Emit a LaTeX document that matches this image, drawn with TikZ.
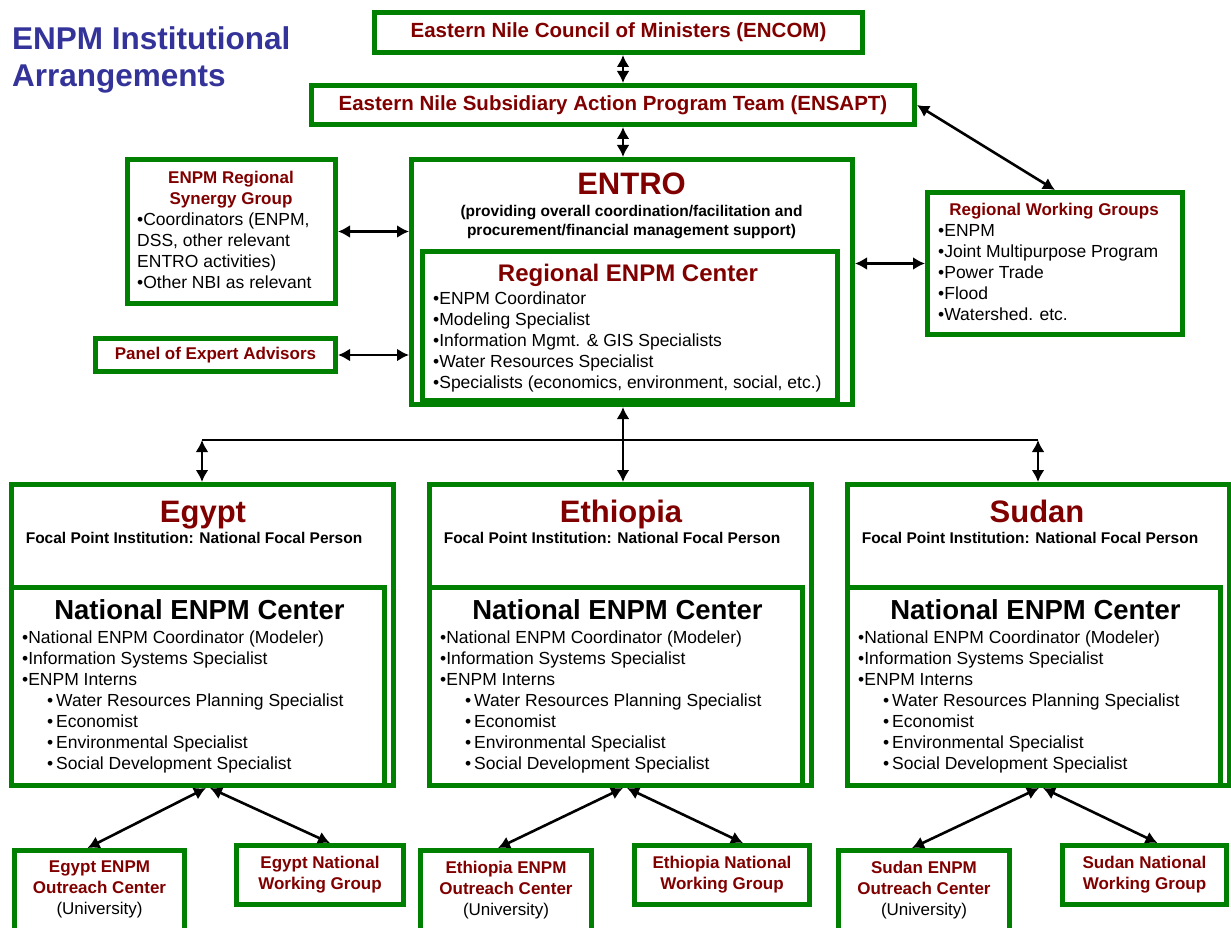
\documentclass[tikz,border=0pt]{standalone}
\usepackage{fontspec}
\setmainfont{Liberation Sans}
\usetikzlibrary{arrows.meta}

\definecolor{boxgreen}{RGB}{0,128,0}
\definecolor{darkred}{RGB}{128,0,0}
\definecolor{titleblue}{RGB}{51,51,153}

\newcommand{\fsz}[2]{\fontsize{#1}{#2}\selectfont}
\newcommand{\centerlist}{%
  •National ENPM Coordinator (Modeler)\\
  •Information Systems Specialist\\
  •ENPM Interns\\
  \hspace*{25pt}•\,Water Resources Planning Specialist\\
  \hspace*{25pt}•\,Economist\\
  \hspace*{25pt}•\,Environmental Specialist\\
  \hspace*{25pt}•\,Social Development Specialist}

\tikzset{
  box/.style={draw=boxgreen, line width=5pt, inner sep=0pt},
  link/.style={>={Latex[length=12pt,width=13pt]}, <->, line width=2.6pt},
  headtext/.style={text=darkred, font=\bfseries\fsz{17}{21}, align=center, inner sep=0pt},
  listtext/.style={font=\fsz{17.5}{21}, align=left, inner sep=0pt},
  countrytitle/.style={anchor=base, text=darkred, font=\bfseries\fsz{31}{31}, inner sep=0pt},
  focaltext/.style={anchor=base, font=\bfseries\fsz{15.5}{17}, inner sep=0pt},
  nctitle/.style={anchor=base, font=\bfseries\fsz{27.5}{27}, inner sep=0pt},
}

\begin{document}
\begin{tikzpicture}[x=1pt, y=-1pt]
    \useasboundingbox ( 0, 0 ) rectangle ( 1231, 928 );

    % заголовок
    \node [anchor=north west, text=titleblue, font=\bfseries\fsz{31.5}{37}, align=left, inner sep=0pt]
        (title) at ( 12, 26 ) {ENPM Institutional\\Arrangements};

    % верхние рамки
    \node [box, text=darkred, font=\bfseries\fsz{20.5}{24}, minimum width=488pt, minimum height=40pt]
        (encom) at ( 618.5, 32.5 ) {Eastern Nile Council of Ministers (ENCOM)};
    \node [box, text=darkred, font=\bfseries\fsz{20.5}{24}, minimum width=603pt, minimum height=39pt]
        (ensapt) at ( 613, 105 ) {Eastern Nile Subsidiary Action Program Team (ENSAPT)};

    % ENTRO
    \node [box, minimum width=441pt, minimum height=245pt] (entro) at ( 632, 282 ) {};
    \node [anchor=base, text=darkred, font=\bfseries\fsz{31}{31}, inner sep=0pt] (entrotitle) at ( 631.5, 195 ) {ENTRO};
    \node [anchor=north, font=\bfseries\fsz{15.5}{19}, align=center, inner sep=0pt]
        (entrosub) at ( 631.5, 205 ) {(providing overall coordination/facilitation and\\procurement/financial management support)};
    \node [box, minimum width=415pt, minimum height=149pt] (regional) at ( 630, 326 ) {};
    \node [anchor=base, text=darkred, font=\bfseries\fsz{24}{24}, inner sep=0pt] (regionaltitle) at ( 628, 281 ) {Regional ENPM Center};
    \node [listtext, anchor=north west] (regionallist) at ( 433, 292 )
        {•ENPM Coordinator\\•Modeling Specialist\\•Information Mgmt. \& GIS Specialists\\•Water Resources Specialist\\•Specialists (economics, environment, social, etc.)};

    % слева
    \node [box, minimum width=208pt, minimum height=144pt] (synergy) at ( 231.5, 231.5 ) {};
    \node [headtext, anchor=north] (synergytitle) at ( 231, 171 ) {ENPM Regional\\Synergy Group};
    \node [listtext, anchor=north west] (synergylist) at ( 137, 213 )
        {•Coordinators (ENPM,\\DSS, other relevant\\ENTRO activities)\\•Other NBI as relevant};
    \node [box, headtext, minimum width=240pt, minimum height=33pt] (panel) at ( 215.5, 355 ) {Panel of Expert Advisors};

    % справа
    \node [box, minimum width=255pt, minimum height=142pt] (rwg) at ( 1055, 263.5 ) {};
    \node [headtext, anchor=north] (rwgtitle) at ( 1054, 203 ) {Regional Working Groups};
    \node [listtext, anchor=north west] (rwglist) at ( 938, 224 )
        {•ENPM\\•Joint Multipurpose Program\\•Power Trade\\•Flood\\•Watershed. etc.};

    % страны
    \node [box, minimum width=382pt, minimum height=301pt] (egypt) at ( 202, 635 ) {};
    \node [box, minimum width=373pt, minimum height=198pt] (egyptnc) at ( 198, 686.5 ) {};
    \node [countrytitle] (egypttitle) at ( 203, 522 ) {Egypt};
    \node [focaltext] (egyptfocal) at ( 194, 543 ) {Focal Point Institution: National Focal Person};
    \node [nctitle] (egyptnctitle) at ( 199.5, 619 ) {National ENPM Center};
    \node [listtext, anchor=north west] (egyptlist) at ( 22, 631 ) {\centerlist};

    \node [box, minimum width=382pt, minimum height=301pt] (ethiopia) at ( 620, 635 ) {};
    \node [box, minimum width=373pt, minimum height=198pt] (ethiopianc) at ( 616, 686.5 ) {};
    \node [countrytitle] (ethiopiatitle) at ( 621, 522 ) {Ethiopia};
    \node [focaltext] (ethiopiafocal) at ( 612, 543 ) {Focal Point Institution: National Focal Person};
    \node [nctitle] (ethiopianctitle) at ( 617.5, 619 ) {National ENPM Center};
    \node [listtext, anchor=north west] (ethiopialist) at ( 440, 631 ) {\centerlist};

    \node [box, minimum width=382pt, minimum height=301pt] (sudan) at ( 1038, 635 ) {};
    \node [box, minimum width=373pt, minimum height=198pt] (sudannc) at ( 1034, 686.5 ) {};
    \node [countrytitle] (sudantitle) at ( 1037, 522 ) {Sudan};
    \node [focaltext] (sudanfocal) at ( 1030, 543 ) {Focal Point Institution: National Focal Person};
    \node [nctitle] (sudannctitle) at ( 1035.5, 619 ) {National ENPM Center};
    \node [listtext, anchor=north west] (sudanlist) at ( 858, 631 ) {\centerlist};

    % нижние рамки
    \node [box, minimum width=170pt, minimum height=90pt] (egyptout) at ( 99.5, 895.5 ) {};
    \node [headtext, anchor=north] (egyptouttext) at ( 99.5, 861 ) {Egypt ENPM\\Outreach Center\\{\color{black}\mdseries(University)}};
    \node [box, headtext, minimum width=167pt, minimum height=59pt] (egyptwg) at ( 320, 875 ) {Egypt National\\Working Group};

    \node [box, minimum width=171pt, minimum height=90pt] (ethiopiaout) at ( 506, 895.5 ) {};
    \node [headtext, anchor=north] (ethiopiaouttext) at ( 506, 861 ) {Ethiopia ENPM\\Outreach Center\\{\color{black}\mdseries(University)}};
    \node [box, headtext, minimum width=175pt, minimum height=59pt] (ethiopiawg) at ( 722, 875 ) {Ethiopia National\\Working Group};

    \node [box, minimum width=171pt, minimum height=90pt] (sudanout) at ( 924, 895.5 ) {};
    \node [headtext, anchor=north] (sudanouttext) at ( 924, 861 ) {Sudan ENPM\\Outreach Center\\{\color{black}\mdseries(University)}};
    \node [box, headtext, minimum width=164pt, minimum height=59pt] (sudanwg) at ( 1144.5, 875 ) {Sudan National\\Working Group};

    % стрелки
    \coordinate (spine) at ( 623, 0 );
    \coordinate (bus) at ( 623, 440 );
    \draw [link] (encom.south -| spine) -- (ensapt.north -| spine);
    \draw [link] (ensapt.south -| spine) -- (entro.north -| spine);
    \draw [link] (ensapt.east) -- (rwg.north);
    \draw [link] (synergy.east) -- (synergy.east -| entro.west);
    \draw [link] (panel.east) -- (panel.east -| entro.west);
    \draw [link] (rwg.west) -- (rwg.west -| entro.east);

    \draw [line width=2.6pt] (egypt.north |- bus) -- (sudan.north |- bus);
    \draw [link] (entro.south -| spine) -- (ethiopia.north -| spine);
    \draw [link] (egypt.north |- bus) -- (egypt.north);
    \draw [link] (sudan.north |- bus) -- (sudan.north);

    \draw [link] ([xshift=4pt]egypt.south) -- ([xshift=-12pt]egyptout.north);
    \draw [link] ([xshift=8pt]egypt.south) -- ([xshift=10pt]egyptwg.north);
    \draw [link] ([xshift=3pt]ethiopia.south) -- ([xshift=-8pt]ethiopiaout.north);
    \draw [link] ([xshift=7pt]ethiopia.south) -- ([xshift=21pt]ethiopiawg.north);
    \draw [link] ([xshift=1pt]sudan.south) -- ([xshift=-12pt]sudanout.north);
    \draw [link] ([xshift=5pt]sudan.south) -- ([xshift=13pt]sudanwg.north);
\end{tikzpicture}
\end{document}
